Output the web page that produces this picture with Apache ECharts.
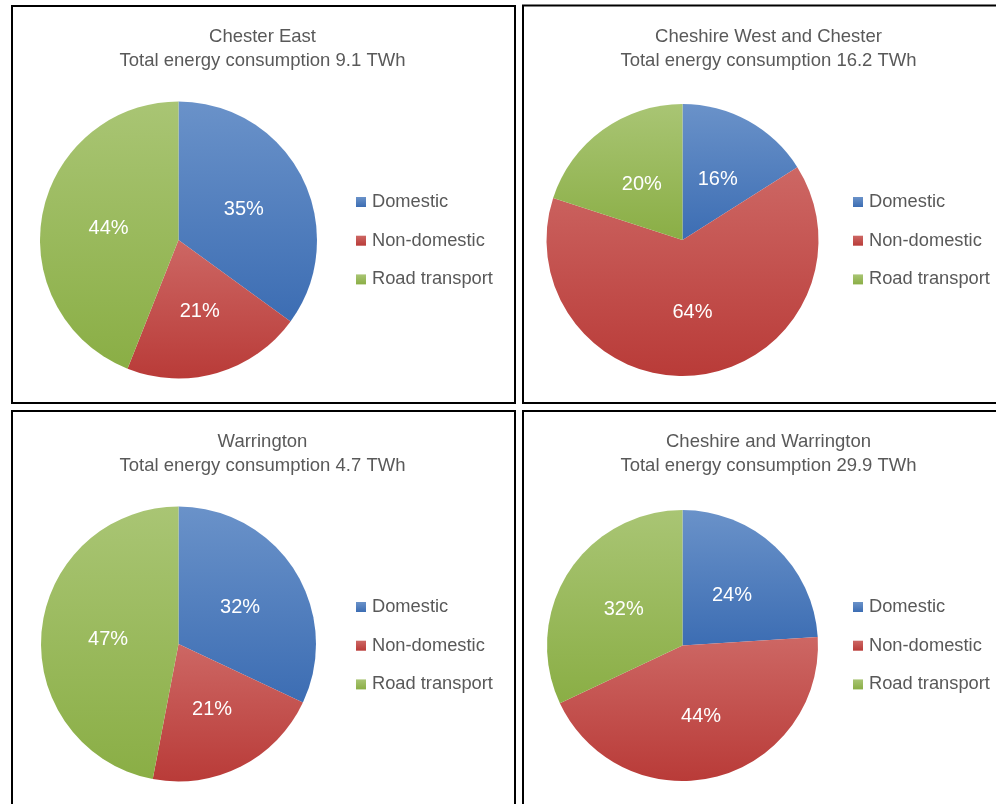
<!DOCTYPE html>
<html>
<head>
<meta charset="utf-8">
<script src="https://cdn.jsdelivr.net/npm/echarts@6/dist/echarts.min.js"></script>
<style>html,body{margin:0;padding:0;background:#fff}#c{width:996px;height:804px}</style>
</head>
<body>
<div id="c"></div>
<script>
const categories = ['Domestic', 'Non-domestic', 'Road transport'];
const regions = ['Chester East', 'Cheshire West and Chester', 'Warrington', 'Cheshire and Warrington'];
const totalsTWh = [9.1, 16.2, 4.7, 29.9];
const chesterEast = [35, 21, 44];
const cheshireWestChester = [16, 64, 20];
const warrington = [32, 21, 47];
const cheshireWarrington = [24, 44, 32];
const regionValues = [chesterEast, cheshireWestChester, warrington, cheshireWarrington];

const gradTop = ['#6A92C9', '#CD6764', '#A9C574'];
const gradBottom = ['#3C6DB3', '#B93B38', '#8AAE45'];

const layout = [
  { cx: 178.5, cy: 240, r: 138.5, tx: 262.5, ty: 24.5, lx: 356, ly: 192 },
  { cx: 682.5, cy: 240, r: 136, tx: 768.5, ty: 24.5, lx: 853, ly: 192 },
  { cx: 178.5, cy: 644, r: 137.5, tx: 262.5, ty: 429.5, lx: 356, ly: 597 },
  { cx: 682.5, cy: 645.5, r: 135.5, tx: 768.5, ty: 429.5, lx: 853, ly: 597 }
];

function grad(i) {
  return { type: 'linear', x: 0, y: 0, x2: 0, y2: 1,
    colorStops: [{ offset: 0, color: gradTop[i] }, { offset: 1, color: gradBottom[i] }] };
}

const titles = [], legends = [], series = [];
regions.forEach((name, k) => {
  const L = layout[k];
  titles.push({
    text: name + '\nTotal energy consumption ' + totalsTWh[k] + ' TWh',
    left: L.tx, top: L.ty, textAlign: 'center', padding: 0,
    textStyle: { fontFamily: 'Liberation Sans, Arial, sans-serif', fontSize: 18.5, fontWeight: 'normal', color: '#595959', lineHeight: 24.5 }
  });
  legends.push({
    orient: 'vertical', left: L.lx, top: L.ly, padding: 0,
    itemWidth: 10, itemHeight: 10, itemGap: 18.7, selectedMode: false,
    icon: 'rect', data: categories,
    textStyle: { fontFamily: 'Liberation Sans, Arial, sans-serif', fontSize: 18.3, color: '#595959', lineHeight: 20, padding: [0, 0, 0, 1] }
  });
  series.push({
    type: 'pie', name: name, center: [L.cx, L.cy], radius: L.r,
    startAngle: 90, clockwise: true, animation: false, silent: true,
    label: { show: true, position: 'inner', formatter: '{c}%', color: '#fff',
      fontFamily: 'Liberation Sans, Arial, sans-serif', fontSize: 20, offset: [1, 2] },
    labelLine: { show: false },
    itemStyle: { borderWidth: 0 },
    data: categories.map((c, i) => ({ name: c, value: regionValues[k][i], itemStyle: { color: grad(i) } }))
  });
});

const chart = echarts.init(document.getElementById('c'), null, { renderer: 'canvas' });
chart.setOption({
  backgroundColor: '#fff',
  animation: false,
  title: titles,
  legend: legends,
  series: series,
  graphic: [
    { type: 'rect', shape: { x: 12, y: 6, width: 503, height: 397 }, style: { fill: 'none', stroke: '#000', lineWidth: 2 }, z: 10 },
    { type: 'rect', shape: { x: 523, y: 5.5, width: 500, height: 397.5 }, style: { fill: 'none', stroke: '#000', lineWidth: 2 }, z: 10 },
    { type: 'rect', shape: { x: 12, y: 411, width: 503, height: 420 }, style: { fill: 'none', stroke: '#000', lineWidth: 2 }, z: 10 },
    { type: 'rect', shape: { x: 523, y: 411, width: 500, height: 420 }, style: { fill: 'none', stroke: '#000', lineWidth: 2 }, z: 10 }
  ]
});
</script>
</body>
</html>
